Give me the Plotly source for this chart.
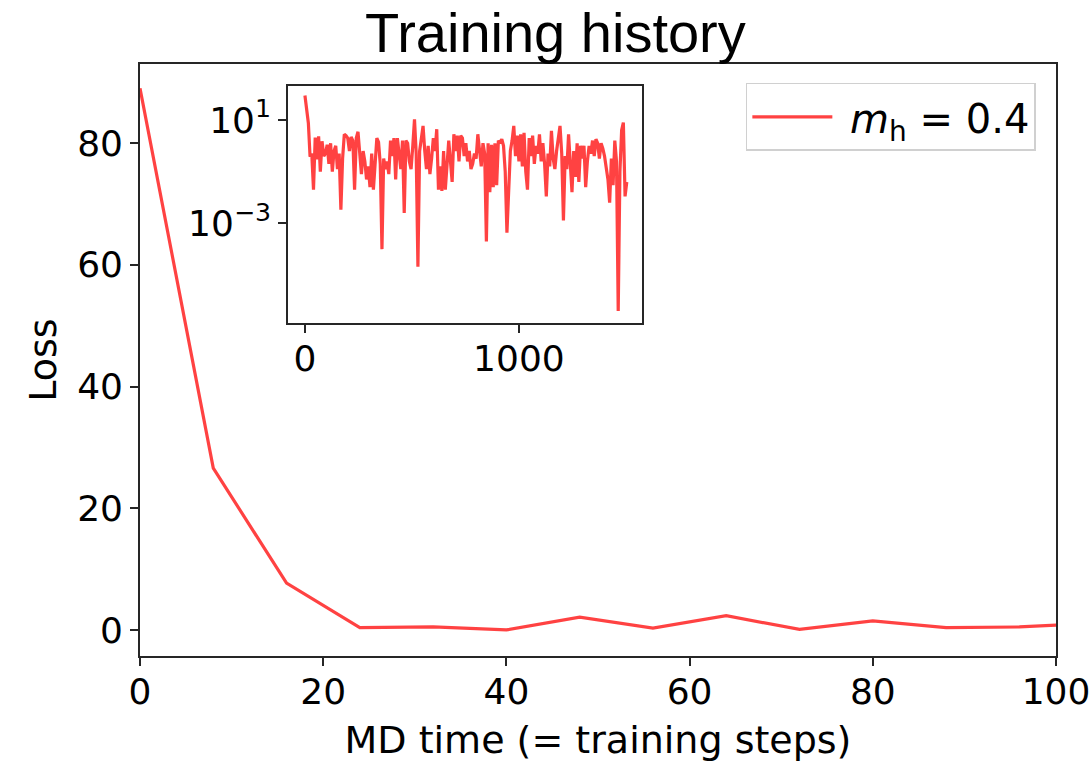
import plotly.graph_objects as go

# Training loss, logged every 8 MD steps
step_interval = 8
loss = [
    89, 26.6, 7.7, 0.38, 0.5, 0.02, 2.1, 0.3, 2.35, 0.1,
    1.5, 0.4, 0.5, 1.1, 0.2, 1.26, 0.1, 0.63, 1.0, 0.126,
    0.5, 0.0034, 0.32, 2.8, 2.5, 2.0, 0.63, 2.2, 1.6, 0.02,
    2.0, 3.5, 0.5, 0.08, 0.63, 0.25, 0.05, 0.16, 0.025, 0.5,
    0.02, 0.32, 2.0, 1.4, 0.2, 0.0001, 0.32, 0.126, 0.25, 0.08,
    1.6, 0.4, 2.0, 0.05, 2.0, 0.5, 0.126, 1.6, 0.0025, 1.6,
    1.26, 0.25, 0.126, 1.0, 10.7, 0.5, 2.1e-5, 0.63, 1.6, 5.9,
    0.63, 0.126, 1.0, 0.08, 0.32, 2.0, 0.63, 4.4, 0.02, 0.16,
    0.018, 0.63, 0.02, 0.32, 1.6, 0.25, 0.04, 2.8, 0.63, 2.5,
    0.25, 2.5, 2.0, 0.4, 1.26, 0.25, 0.63, 0.126, 0.2, 0.5,
    0.32, 2.8, 0.63, 0.16, 1.26, 0.5, 0.0002, 1.26, 0.016, 1.1,
    0.025, 1.26, 0.03, 1.6, 1.26, 1.8, 1.0, 0.1, 0.00043, 0.03,
    0.63, 1.6, 5.9, 0.4, 2.5, 0.25, 2.8, 0.16, 3.2, 0.1,
    0.02, 2.0, 0.4, 2.5, 0.2, 1.0, 0.5, 2.8, 0.25, 1.26,
    0.2, 0.011, 0.5, 0.16, 3.8, 0.32, 0.126, 0.63, 2.0, 5.9,
    0.5, 0.0013, 0.4, 0.126, 2.8, 0.16, 0.016, 0.63, 0.063, 1.26,
    0.04, 1.0, 0.32, 1.0, 0.025, 0.25, 1.0, 0.5, 1.6, 0.4,
    1.8, 1.26, 0.32, 1.26, 0.8, 0.4, 0.16, 0.05, 0.0063, 0.32,
    0.03, 1.6, 0.25, 4e-7, 0.1, 4.0, 7.9, 0.011, 0.04,
]
md_time = [i * step_interval for i in range(len(loss))]

main_xticks = [0, 20, 40, 60, 80, 100]
main_yticks = [0, 20, 40, 60, 80]
inset_xticks = [0, 1000]
inset_yticks = [10, 1e-3]
inset_yticktext = ["10<sup>1</sup>", "10<sup>\u22123</sup>"]

LINE_COLOR = "rgba(255,0,0,0.74)"
SPINE = "#262626"
TICK_FONT = dict(family="DejaVu Sans", size=36, color="black")

fig = go.Figure()

fig.add_trace(go.Scatter(
    x=md_time, y=loss, mode="lines",
    line=dict(color=LINE_COLOR, width=3.2),
    name="\u00a0<i>m</i><sub>h</sub> = 0.4",
    xaxis="x", yaxis="y", showlegend=True,
))

fig.add_trace(go.Scatter(
    x=md_time, y=loss, mode="lines",
    line=dict(color=LINE_COLOR, width=3.2),
    xaxis="x2", yaxis="y2", showlegend=False,
))

axis_common = dict(
    showline=True, linecolor=SPINE, linewidth=1.6, mirror=True,
    ticks="outside", ticklen=8, tickwidth=1.5, tickcolor=SPINE,
    showgrid=False, zeroline=False, tickfont=TICK_FONT, automargin=False,
    ticklabeloverflow="allow",
)

fig.update_layout(
    width=1089, height=762,
    margin=dict(l=140, r=33, t=64, b=106),
    paper_bgcolor="white", plot_bgcolor="white",
    title=dict(
        text="Training history",
        font=dict(family="Liberation Sans", size=56, color="black"),
        x=0.51, xref="container", xanchor="center",
        y=0.957, yref="container", yanchor="middle",
    ),
    xaxis=dict(
        **axis_common, range=[0, 100.001], tickvals=main_xticks,
        ticklabelstandoff=-5,
        title=dict(text="MD time (= training steps)",
                   font=dict(family="DejaVu Sans", size=38, color="black"),
                   standoff=16),
    ),
    yaxis=dict(
        **axis_common, range=[-4.27, 93.0], tickvals=main_yticks,
        title=dict(text="Loss",
                   font=dict(family="DejaVu Sans", size=38, color="black"),
                   standoff=9),
    ),
    xaxis2=dict(
        **axis_common, domain=[0.1616, 0.548], anchor="y2",
        range=[-79, 1575], tickvals=inset_xticks,
        ticklabelstandoff=-5,
    ),
    yaxis2=dict(
        **axis_common, domain=[0.5625, 0.9628], anchor="x2",
        type="log", range=[-6.86, 2.316],
        tickvals=inset_yticks, ticktext=inset_yticktext,
    ),
    legend=dict(
        x=0.978, y=0.968, xanchor="right", yanchor="top",
        bgcolor="white", bordercolor="#d0d0d0", borderwidth=1.5,
        font=dict(family="DejaVu Sans", size=40, color="black"),
        itemwidth=80,
    ),
)

fig.write_html("out.html")
